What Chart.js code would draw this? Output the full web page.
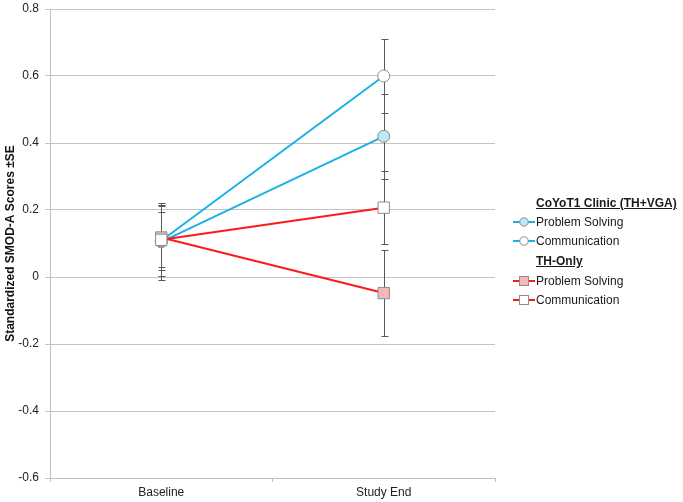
<!DOCTYPE html>
<html><head><meta charset="utf-8">
<script src="https://cdn.jsdelivr.net/npm/chart.js@4"></script>
<style>
html,body{margin:0;padding:0;background:#fff;}
#wrap{position:relative;width:683px;height:502px;}
#legend{position:absolute;left:0;top:0;font-family:"Liberation Sans",Arial,sans-serif;font-size:12px;color:#1a1a1a;}
.row{position:absolute;white-space:nowrap;line-height:16px;}
.hdr{font-weight:bold;text-decoration:underline;}
.sym{position:absolute;}
</style></head>
<body>
<div id="wrap"><canvas id="c" width="683" height="502"></canvas><div id="legend"></div></div>
<script>
const categories = ['Baseline', 'Study End'];
const yTicks = [0.8, 0.6, 0.4, 0.2, 0, -0.2, -0.4, -0.6];

const coyotProblem = [0.105, 0.42];
const coyotProblemSE = [0.115, 0.127];
const coyotComm = [0.108, 0.60];
const coyotCommSE = [0.105, 0.11];
const thProblem = [0.118, -0.048];
const thProblemSE = [0.097, 0.128];
const thComm = [0.111, 0.207];
const thCommSE = [0.082, 0.108];

const groupNames = ['CoYoT1 Clinic (TH+VGA)', 'TH-Only'];
const seriesNames = ['Problem Solving', 'Communication'];

const BLUE = '#1BB1E7', RED = '#FF1A1A', BORDER = '#8C8C8C';

const datasets = [
  {label: seriesNames[0], group: groupNames[0], data: coyotProblem, se: coyotProblemSE, borderColor: BLUE,
   pointStyle: 'circle', pointRadius: 6, pointBackgroundColor: '#BDE8F6', order: 4},
  {label: seriesNames[1], group: groupNames[0], data: coyotComm, se: coyotCommSE, borderColor: BLUE,
   pointStyle: 'circle', pointRadius: 6, pointBackgroundColor: '#FFFFFF', order: 3},
  {label: seriesNames[0], group: groupNames[1], data: thProblem, se: thProblemSE, borderColor: RED,
   pointStyle: 'rect', pointRadius: 8, pointBackgroundColor: '#F4B8B8', order: 2},
  {label: seriesNames[1], group: groupNames[1], data: thComm, se: thCommSE, borderColor: RED,
   pointStyle: 'rect', pointRadius: 8, pointBackgroundColor: '#FFFFFF', order: 1}
].map(d => Object.assign({borderWidth: 2, pointBorderColor: BORDER, pointBorderWidth: 1, pointHoverRadius: d.pointRadius, fill: false, tension: 0}, d));

const errorBars = {
  id: 'errorBars',
  beforeDatasetsDraw(chart) {
    const ctx = chart.ctx, y = chart.scales.y;
    ctx.save();
    ctx.strokeStyle = '#5A5A5A';
    ctx.lineWidth = 1;
    chart.data.datasets.forEach((ds, i) => {
      const meta = chart.getDatasetMeta(i);
      meta.data.forEach((pt, j) => {
        const x = Math.round(pt.x) + 0.5;
        const top = Math.round(y.getPixelForValue(ds.data[j] + ds.se[j])) + 0.5;
        const bot = Math.round(y.getPixelForValue(ds.data[j] - ds.se[j])) + 0.5;
        ctx.beginPath();
        ctx.moveTo(x, top); ctx.lineTo(x, bot);
        ctx.moveTo(x - 3, top); ctx.lineTo(x + 4, top);
        ctx.moveTo(x - 3, bot); ctx.lineTo(x + 4, bot);
        ctx.stroke();
      });
    });
    ctx.restore();
  }
};

const FONT = "'Liberation Sans', Arial, sans-serif";
Chart.defaults.font.family = FONT;
Chart.defaults.color = '#222';

new Chart(document.getElementById('c'), {
  type: 'line',
  data: {labels: categories, datasets},
  plugins: [errorBars],
  options: {
    responsive: false,
    animation: false,
    layout: {padding: {top: 8, right: 188, left: 0, bottom: 0}},
    plugins: {legend: {display: false}, tooltip: {enabled: false}},
    scales: {
      x: {
        offset: true,
        grid: {display: true, drawOnChartArea: false, drawTicks: true, tickLength: 4, color: '#BFBFBF', offset: true},
        border: {color: '#BFBFBF'},
        ticks: {font: {size: 12}, padding: 3, color: '#222'},
        afterFit(s) { s.height = 24; s.paddingLeft = 0; s.paddingRight = 0; }
      },
      y: {
        min: -0.6, max: 0.8,
        afterBuildTicks(s) { s.ticks = yTicks.map(v => ({value: v})); },
        grid: {color: '#C4C4C4', tickLength: 5},
        border: {color: '#BFBFBF'},
        ticks: {font: {size: 12}, padding: 6, color: '#222', callback: v => String(Math.round(v * 10) / 10)},
        title: {display: true, text: 'Standardized SMOD-A Scores ±SE', font: {size: 12, weight: 'bold'}, color: '#111', padding: {top: 3, bottom: 0}},
        afterFit(s) { s.width = 50; s.paddingTop = 0; s.paddingBottom = 0; }
      }
    }
  }
});

// Legend (HTML)
const legend = document.getElementById('legend');
function symbol(ds) {
  const line = `<line x1="0" y1="8" x2="22" y2="8" stroke="${ds.borderColor}" stroke-width="2"/>`;
  const mk = ds.pointStyle === 'circle'
    ? `<circle cx="11" cy="8" r="4.2" fill="${ds.pointBackgroundColor}" stroke="${BORDER}" stroke-width="1"/>`
    : `<rect x="6.5" y="3.5" width="9" height="9" fill="${ds.pointBackgroundColor}" stroke="${BORDER}" stroke-width="1"/>`;
  return `<svg width="22" height="16" style="display:block">${line}${mk}</svg>`;
}
const rows = [
  {hdr: groupNames[0], y: 203},
  {ds: datasets[0], y: 222},
  {ds: datasets[1], y: 241},
  {hdr: groupNames[1], y: 261},
  {ds: datasets[2], y: 281},
  {ds: datasets[3], y: 300}
];
rows.forEach(r => {
  const div = document.createElement('div');
  div.className = 'row' + (r.hdr ? ' hdr' : '');
  div.style.left = '536px';
  div.style.top = (r.y - 8) + 'px';
  div.textContent = r.hdr || r.ds.label;
  legend.appendChild(div);
  if (r.ds) {
    const s = document.createElement('div');
    s.className = 'sym';
    s.style.left = '513px';
    s.style.top = (r.y - 8) + 'px';
    s.innerHTML = symbol(r.ds);
    legend.appendChild(s);
  }
});
</script>
</body></html>
